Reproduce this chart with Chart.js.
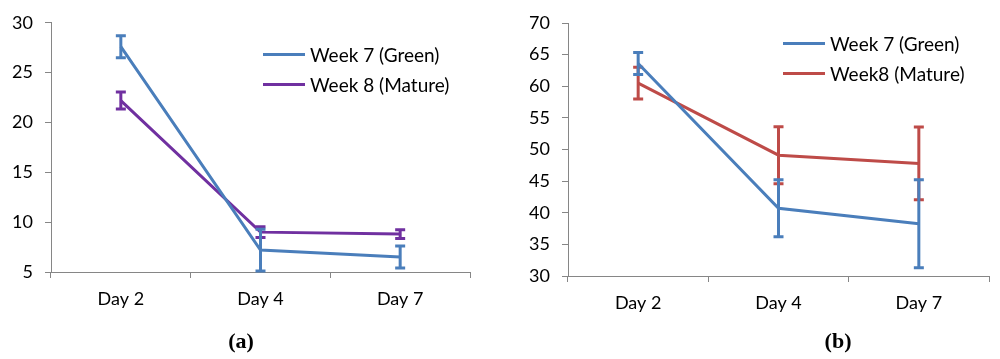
<!DOCTYPE html>
<html>
<head>
<meta charset="utf-8">
<script src="https://cdn.jsdelivr.net/npm/chart.js@4/dist/chart.umd.min.js"></script>
<style>
  html, body { margin: 0; padding: 0; background: #fff; }
  #wrap { position: relative; width: 1000px; height: 359px; overflow: hidden; }
  .panel { position: absolute; top: 0; width: 500px; height: 359px; }
  .legend { position: absolute; font-family: Lato, "Open Sans", sans-serif; font-size: 19px; color: #000; }
  .legend .item { display: flex; align-items: center; height: 30px; }
  .legend .swatch { width: 42px; height: 3px; margin-right: 5px; }
  .caption { position: absolute; font-family: "Liberation Serif", "DejaVu Serif", serif; font-weight: bold; font-size: 22px; color: #000; transform: translate(-50%, -50%); }
</style>
</head>
<body>
<div id="wrap">
  <div class="panel" style="left:0"><canvas id="ca" width="500" height="359"></canvas></div>
  <div class="panel" style="left:500px"><canvas id="cb" width="500" height="359"></canvas></div>
  <div class="legend" id="legA" style="left:263px; top:39px;"></div>
  <div class="legend" id="legB" style="left:783px; top:28px;"></div>
  <div class="caption" style="left:241px; top:341px;">(<span>a</span>)</div>
  <div class="caption" style="left:838px; top:341px;">(<span>b</span>)</div>
</div>
<script>
// ---- data ----
const categories = ['Day 2', 'Day 4', 'Day 7'];

// panel (a)
const aLabels = ['Week 7 (Green)', 'Week 8 (Mature)'];
const aWeek7 = [27.6, 7.2, 6.5];
const aWeek7Err = [1.1, 2.1, 1.1];
const aWeek8 = [22.2, 9.0, 8.8];
const aWeek8Err = [0.85, 0.55, 0.45];
const aTicks = [5, 10, 15, 20, 25, 30];

// panel (b)
const bLabels = ['Week 7 (Green)', 'Week8 (Mature)'];
const bWeek7 = [63.6, 40.7, 38.25];
const bWeek7Err = [1.75, 4.5, 6.95];
const bWeek8 = [60.5, 49.1, 47.8];
const bWeek8Err = [2.5, 4.5, 5.75];
const bTicks = [30, 35, 40, 45, 50, 55, 60, 65, 70];

// ---- styles ----
const BLUE = '#4a7ebb';
const PURPLE = '#7030a0';
const RED = '#be4b48';
const AXIS = '#868686';
const FONT = 'Lato, "Open Sans", sans-serif';

const errorBars = {
  id: 'errorBars',
  afterDatasetDraw(chart, args) {
    const ds = chart.data.datasets[args.index];
    if (!ds.err) return;
    const meta = args.meta;
    const y = chart.scales.y;
    const ctx = chart.ctx;
    ctx.save();
    ctx.strokeStyle = ds.borderColor;
    ctx.lineWidth = 3;
    ctx.lineCap = 'butt';
    meta.data.forEach((pt, i) => {
      const v = ds.data[i], e = ds.err[i];
      const x = pt.x;
      const yt = y.getPixelForValue(v + e);
      const yb = y.getPixelForValue(v - e);
      ctx.beginPath();
      ctx.moveTo(x, yt); ctx.lineTo(x, yb);
      ctx.moveTo(x - 5, yt); ctx.lineTo(x + 5, yt);
      ctx.moveTo(x - 5, yb); ctx.lineTo(x + 5, yb);
      ctx.stroke();
    });
    ctx.restore();
  }
};

function makeChart(id, labels, s1, e1, c1, s2, e2, c2, ticks, pad, yWidth) {
  const tickVals = ticks.slice();
  return new Chart(document.getElementById(id), {
    type: 'line',
    data: {
      labels: categories,
      datasets: [
        { label: labels[0], data: s1, err: e1, borderColor: c1, borderWidth: 3, pointRadius: 0, tension: 0, fill: false },
        { label: labels[1], data: s2, err: e2, borderColor: c2, borderWidth: 3, pointRadius: 0, tension: 0, fill: false }
      ]
    },
    options: {
      responsive: false,
      animation: false,
      layout: { padding: pad },
      plugins: { legend: { display: false }, tooltip: { enabled: false } },
      scales: {
        x: {
          type: 'category',
          offset: true,
          grid: { offset: true, drawOnChartArea: false, drawTicks: true, tickLength: 6, color: AXIS, lineWidth: 1 },
          border: { color: AXIS, width: 1 },
          ticks: { font: { family: FONT, size: 18 }, color: '#000', padding: 10 },
          afterFit: s => { s.height = 50; }
        },
        y: {
          min: tickVals[0], max: tickVals[tickVals.length - 1],
          afterBuildTicks: s => { s.ticks = tickVals.map(v => ({ value: v })); },
          grid: { drawOnChartArea: false, drawTicks: true, tickLength: 6, color: AXIS, lineWidth: 1 },
          border: { color: AXIS, width: 1 },
          ticks: { font: { family: FONT, size: 18 }, color: '#000', padding: 12 },
          afterFit: s => { s.width = yWidth; }
        }
      }
    },
    plugins: [errorBars]
  });
}

makeChart('ca', aLabels, aWeek7, aWeek7Err, BLUE, aWeek8, aWeek8Err, PURPLE, aTicks,
  { left: 0, top: 20, right: 30, bottom: 37 }, 51);
makeChart('cb', bLabels, bWeek7, bWeek7Err, BLUE, bWeek8, bWeek8Err, RED, bTicks,
  { left: 0, top: 23, right: 11, bottom: 33 }, 68);

function legend(elId, labels, colors) {
  const el = document.getElementById(elId);
  labels.forEach((t, i) => {
    const item = document.createElement('div');
    item.className = 'item';
    const sw = document.createElement('div');
    sw.className = 'swatch';
    sw.style.background = colors[i];
    const tx = document.createElement('span');
    tx.textContent = t;
    item.appendChild(sw); item.appendChild(tx);
    el.appendChild(item);
  });
}
legend('legA', aLabels, [BLUE, PURPLE]);
legend('legB', bLabels, [BLUE, RED]);
</script>
</body>
</html>
